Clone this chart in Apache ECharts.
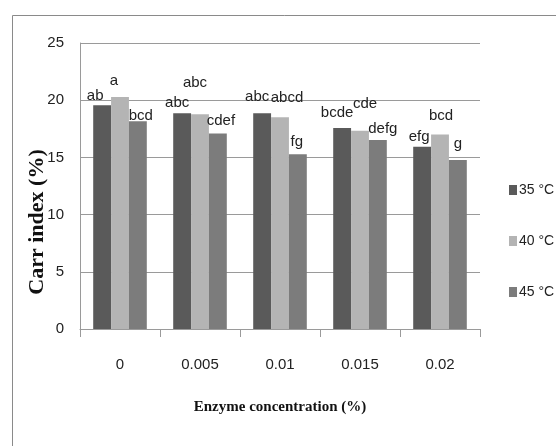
<!DOCTYPE html>
<html>
<head>
<meta charset="utf-8">
<script src="https://cdn.jsdelivr.net/npm/echarts@6/dist/echarts.min.js"></script>
<style>
html,body{margin:0;padding:0;background:#fff;}
#chart{width:556px;height:446px;}
</style>
</head>
<body>
<div id="chart"></div>
<script>
// ---- data ----
const categories = ['0', '0.005', '0.01', '0.015', '0.02'];
const seriesNames = ['35 °C', '40 °C', '45 °C'];
const carr35 = [19.55, 18.85, 18.85, 17.57, 15.94];
const carr40 = [20.28, 18.77, 18.5, 17.33, 17.0];
const carr45 = [18.15, 17.1, 15.27, 16.52, 14.77];
const letters35 = ['ab', 'abc', 'abc', 'bcde', 'efg'];
const letters40 = ['a', 'abc', 'abcd', 'cde', 'bcd'];
const letters45 = ['bcd', 'cdef', 'fg', 'defg', 'g'];
const yTicks = { min: 0, max: 25, interval: 5 };
const xTitle = 'Enzyme concentration (%)';
const yTitle = 'Carr index (%)';

// ---- layout / style (not data) ----
const nudge35 = [[-7, -2], [-5, -3], [-5, -9], [-5, -8], [-3, -2]];
const nudge40 = [[-6, -9], [-5, -24], [7, -12], [5, -19], [1, -11]];
const nudge45 = [[3, 2], [3, -5], [-1, -5], [5, -4], [0, -9]];
const colors = ['#5a5a5a', '#b4b4b4', '#7c7c7c'];
const sans = "'Liberation Sans', Arial, sans-serif";
const serif = "'Liberation Serif', 'Times New Roman', serif";

function makeSeries(name, values, letters, nudge, color) {
  return {
    name: name,
    type: 'bar',
    barGap: '0%',
    barCategoryGap: '33%',
    itemStyle: { color: color },
    data: values.map((v, i) => ({ value: v, label: { offset: nudge[i] } })),
    label: {
      show: true,
      position: 'top',
      distance: 0,
      fontSize: 15,
      fontFamily: sans,
      color: '#222',
      formatter: p => letters[p.dataIndex]
    }
  };
}

const chart = echarts.init(document.getElementById('chart'), null, { renderer: 'canvas' });
chart.setOption({
  animation: false,
  backgroundColor: '#ffffff',
  color: colors,
  grid: { left: 80, right: 76, top: 43, bottom: 117, containLabel: false },
  legend: {
    orient: 'vertical',
    left: 504,
    top: 176,
    itemWidth: 8,
    itemHeight: 10,
    itemGap: 33,
    icon: 'rect',
    data: seriesNames,
    textStyle: { fontSize: 14, fontFamily: sans, color: '#222', lineHeight: 18, padding: [0, 0, 0, -3] }
  },
  xAxis: {
    type: 'category',
    data: categories,
    name: xTitle,
    nameLocation: 'middle',
    nameGap: 71,
    nameTextStyle: { fontSize: 15, fontWeight: 'bold', fontFamily: serif, color: '#111' },
    axisLine: { lineStyle: { color: '#9a9a9a', width: 1 } },
    axisTick: { show: true, length: 8, alignWithLabel: false, lineStyle: { color: '#9a9a9a' } },
    axisLabel: { fontSize: 15, fontFamily: sans, color: '#222', margin: 28 }
  },
  yAxis: {
    type: 'value',
    min: yTicks.min,
    max: yTicks.max,
    interval: yTicks.interval,
    axisLine: { show: true, lineStyle: { color: '#9a9a9a', width: 1 } },
    axisTick: { show: false },
    axisLabel: { fontSize: 15, fontFamily: sans, color: '#222', margin: 16 },
    splitLine: { show: true, lineStyle: { color: '#9a9a9a', width: 1 } }
  },
  graphic: [
    {
      type: 'rect',
      left: 10, top: 13,
      shape: { x: 0, y: 0, width: 600, height: 500 },
      style: { fill: 'none', stroke: '#8a8a8a', lineWidth: 1 },
      silent: true
    },
    {
      type: 'text',
      x: 37, y: 222,
      rotation: Math.PI / 2,
      style: {
        text: yTitle,
        fontSize: 22,
        fontWeight: 'bold',
        fontFamily: serif,
        fill: '#111',
        textAlign: 'center',
        textVerticalAlign: 'middle'
      },
      silent: true
    }
  ],
  series: [
    makeSeries(seriesNames[0], carr35, letters35, nudge35, colors[0]),
    makeSeries(seriesNames[1], carr40, letters40, nudge40, colors[1]),
    makeSeries(seriesNames[2], carr45, letters45, nudge45, colors[2])
  ]
});
</script>
</body>
</html>
